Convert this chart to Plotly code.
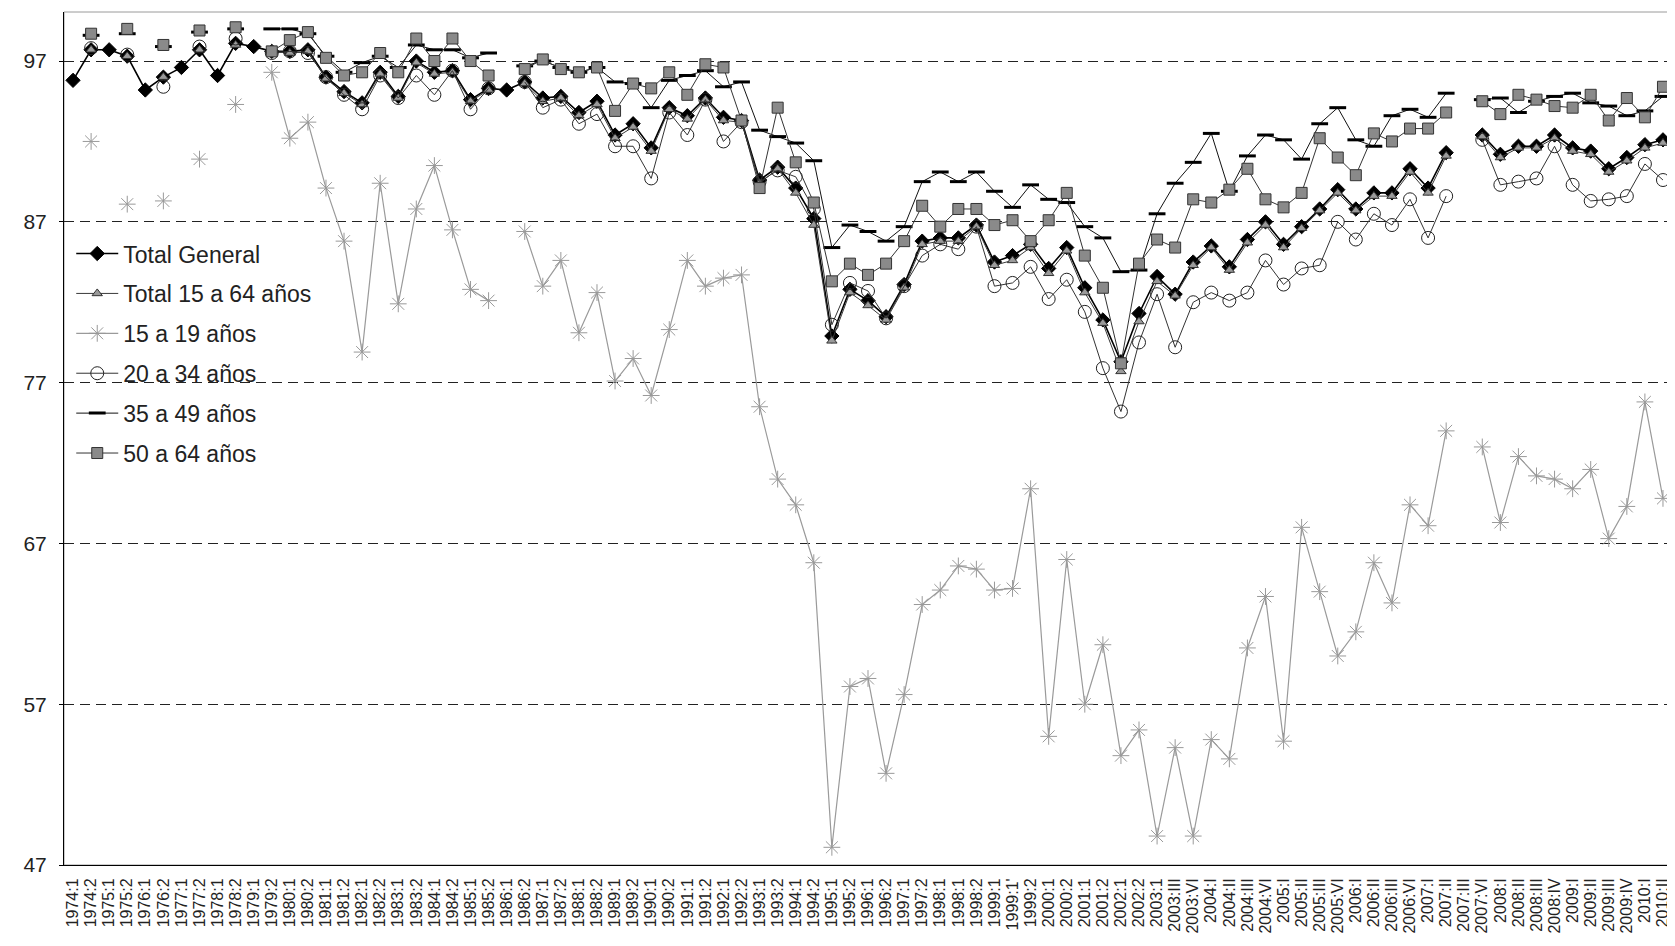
import plotly.graph_objects as go

periods = ["1974:1","1974:2","1975:1","1975:2","1976:1","1976:2","1977:1","1977:2","1978:1","1978:2",
           "1979:1","1979:2","1980:1","1980:2","1981:1","1981:2","1982:1","1982:2","1983:1","1983:2",
           "1984:1","1984:2","1985:1","1985:2","1986:1","1986:2","1987:1","1987:2","1988:1","1988:2",
           "1989:1","1989:2","1990:1","1990:2","1991:1","1991:2","1992:1","1992:2","1993:1","1993:2",
           "1994:1","1994:2","1995:1","1995:2","1996:1","1996:2","1997:1","1997:2","1998:1","1998:1",
           "1998:2","1999:1","1999:1'","1999:2","2000:1","2000:2","2001:1","2001:2","2002:1","2002:2",
           "2003:1","2003:III","2003:VI","2004:I","2004:II","2004:III","2004:VI","2005:I","2005:II","2005:III",
           "2005:VI","2006:I","2006:II","2006:III","2006:VI","2007:I","2007:II","2007:III","2007:VI","2008:I",
           "2008:II","2008:III","2008:IV","2009:I","2009:II","2009:III","2009:IV","2010:I","2010:II"]

N = None
total_general = [95.8,97.7,97.7,97.3,95.2,96.0,96.6,97.7,96.1,98.1,
                 97.9,97.6,97.6,97.7,96.0,95.1,94.4,96.3,94.8,97.0,
                 96.3,96.4,94.6,95.3,95.2,95.7,94.7,94.8,93.8,94.5,
                 92.4,93.1,91.6,94.1,93.6,94.7,93.5,93.3,89.6,90.4,
                 89.1,87.2,79.9,82.8,82.1,81.1,83.1,85.8,86.0,86.0,
                 86.8,84.5,84.9,85.6,84.1,85.4,82.9,80.9,78.3,81.3,
                 83.6,82.5,84.5,85.5,84.2,85.9,87.0,85.6,86.7,87.8,
                 89.0,87.8,88.8,88.8,90.3,89.1,91.3,N,92.4,91.2,
                 91.7,91.7,92.4,91.6,91.4,90.3,91.0,91.8,92.1]

total_15_64 = [N,97.7,N,97.3,N,96.0,N,97.7,N,98.0,
               N,97.6,97.5,97.6,95.9,95.0,94.3,96.2,94.7,96.9,
               96.2,96.3,94.5,95.2,N,95.6,94.5,94.7,93.6,94.3,
               92.2,92.9,91.4,94.0,93.4,94.6,93.3,93.2,89.4,90.3,
               88.8,86.8,79.6,82.6,81.8,80.9,82.9,85.6,85.8,85.8,
               86.7,84.3,84.6,85.4,83.8,85.2,82.6,80.7,77.7,80.8,
               83.3,82.4,84.3,85.4,84.0,85.7,86.8,85.4,86.6,87.7,
               88.8,87.7,88.6,88.6,90.1,88.8,91.1,N,92.3,91.0,
               91.6,91.6,92.2,91.4,91.2,90.1,90.8,91.6,91.9]

age_15_19 = [N,92.0,N,88.1,N,88.3,N,90.9,N,94.3,
             N,96.3,92.2,93.2,89.1,85.8,78.9,89.4,81.9,87.8,
             90.5,86.5,82.8,82.1,N,86.4,83.0,84.6,80.1,82.6,
             77.1,78.5,76.2,80.3,84.6,83.0,83.5,83.7,75.5,71.0,
             69.4,65.8,48.1,58.1,58.6,52.7,57.6,63.2,64.1,65.6,
             65.4,64.1,64.2,70.4,55.0,66.0,57.0,60.7,53.8,55.4,
             48.8,54.3,48.8,54.8,53.6,60.5,63.7,54.7,68.0,64.0,
             60.0,61.5,65.8,63.3,69.4,68.1,74.0,N,73.0,68.3,
             72.4,71.2,71.0,70.4,71.6,67.3,69.3,75.8,69.8]

age_20_34 = [N,97.8,N,97.4,N,95.4,N,97.9,N,98.4,
             N,97.5,97.6,97.5,96.0,94.9,94.0,96.1,94.7,96.1,
             94.9,96.4,94.0,95.3,N,95.7,94.1,94.6,93.1,93.7,
             91.7,91.7,89.7,93.8,92.4,94.6,92.0,93.2,89.5,90.2,
             89.8,87.8,80.6,83.2,82.7,81.0,83.0,84.9,85.6,85.3,
             86.7,83.0,83.2,84.2,82.2,83.4,81.4,77.9,75.2,79.5,
             82.5,79.2,82.0,82.6,82.1,82.6,84.6,83.1,84.1,84.3,
             87.0,85.9,87.5,86.8,88.4,86.0,88.6,N,92.1,89.3,
             89.5,89.7,91.7,89.3,88.3,88.4,88.6,90.6,89.6]

age_35_49 = [N,98.6,N,98.7,N,97.9,N,98.8,N,99.0,
             N,99.0,99.0,98.7,97.3,96.3,96.9,97.3,96.6,98.0,
             97.7,97.7,97.2,97.5,N,96.7,97.0,96.6,96.3,96.6,
             95.7,95.6,94.1,95.8,96.1,96.4,95.4,95.7,92.7,92.3,
             91.9,90.8,85.4,86.8,86.4,85.8,86.7,89.5,90.1,89.5,
             90.1,88.9,87.9,89.3,88.4,88.2,86.7,86.0,83.9,84.0,
             87.5,89.4,90.7,92.5,88.9,91.1,92.4,92.1,90.9,93.1,
             94.1,92.1,91.7,93.6,94.0,93.5,95.0,N,94.6,94.7,
             93.8,94.5,94.8,95.0,94.4,94.2,93.6,93.9,94.8]

age_50_64 = [N,98.7,N,99.0,N,98.0,N,98.9,N,99.1,
             N,97.6,98.3,98.8,97.2,96.1,96.3,97.5,96.3,98.4,
             97.0,98.4,97.0,96.1,N,96.5,97.1,96.5,96.3,96.6,
             93.9,95.6,95.3,96.3,94.9,96.8,96.6,93.3,89.1,94.1,
             90.7,88.2,83.3,84.4,83.7,84.4,85.8,88.0,86.7,87.8,
             87.8,86.8,87.1,85.8,87.1,88.8,84.9,82.9,78.2,84.4,
             85.9,85.4,88.4,88.2,89.0,90.3,88.4,87.9,88.8,92.2,
             91.0,89.9,92.5,92.0,92.8,92.8,93.8,N,94.5,93.7,
             94.9,94.6,94.2,94.1,94.9,93.3,94.7,93.5,95.4]

y_ticks = [47, 57, 67, 77, 87, 97]

xpos = list(range(1, len(periods) + 1))

series = [
    ("Total General", total_general,
     dict(symbol="diamond", size=11, color="#000000", line=dict(color="#000000", width=1)),
     dict(color="#000000", width=1.6)),
    ("Total 15 a 64 años", total_15_64,
     dict(symbol="triangle-up", size=9, color="#9a9a9a", line=dict(color="#333333", width=1)),
     dict(color="#3a3a3a", width=1)),
    ("15 a 19 años", age_15_19,
     dict(symbol="asterisk-open", size=14, color="#999999", line=dict(color="#999999", width=1)),
     dict(color="#9a9a9a", width=1.2)),
    ("20 a 34 años", age_20_34,
     dict(symbol="circle-open", size=13, color="#222222", line=dict(color="#222222", width=1)),
     dict(color="#333333", width=1)),
    ("35 a 49 años", age_35_49,
     dict(symbol="line-ew-open", size=12, color="#000000", line=dict(color="#000000", width=3)),
     dict(color="#111111", width=1)),
    ("50 a 64 años", age_50_64,
     dict(symbol="square", size=11, color="#8a8a8a", line=dict(color="#333333", width=1)),
     dict(color="#333333", width=1)),
]

fig = go.Figure()
for k, (name, vals, mk, ln) in enumerate(series):
    fig.add_trace(go.Scatter(x=xpos, y=vals, name=name, mode="lines+markers",
                             marker=mk, line=ln, connectgaps=False, legendgroup=f"g{k}"))

font_family = "Liberation Sans, Arial, sans-serif"

# page body has an 8px default margin: size the figure so the plot area lands where it should
fig.update_layout(
    width=1667, height=938,
    margin=dict(l=56, r=3, t=4, b=81, autoexpand=False),
    paper_bgcolor="white", plot_bgcolor="white",
    font=dict(family=font_family, color="#222222"),
    showlegend=True,
    legend=dict(x=0.0045, y=0.742, xanchor="left", yanchor="top",
                bgcolor="rgba(0,0,0,0)", font=dict(size=23, color="#222222", family=font_family),
                tracegroupgap=7, itemwidth=42),
    shapes=[dict(type="rect", xref="paper", yref="paper", x0=0, y0=0, x1=1, y1=1,
                 line=dict(color="#9a9a9a", width=1), layer="below")],
)

fig.update_xaxes(range=[0.5, len(periods) + 0.5], tickmode="array", tickvals=xpos, ticktext=periods,
                 tickangle=-90, tickfont=dict(size=16, color="#222222"), showgrid=False,
                 showline=True, linecolor="#000000", linewidth=1, zeroline=False, ticks="",
                 ticklabelstandoff=6)

fig.update_yaxes(range=[47, 100.05], tickmode="array", tickvals=y_ticks,
                 ticktext=[str(v) for v in y_ticks], tickfont=dict(size=21, color="#222222"),
                 showgrid=True, gridcolor="#222222", gridwidth=1.3, griddash="10px,6px",
                 showline=True, linecolor="#000000", linewidth=1, zeroline=False,
                 ticks="outside", ticklen=4, tickcolor="#000000", ticklabelstandoff=8)

fig.write_html("out.html")
